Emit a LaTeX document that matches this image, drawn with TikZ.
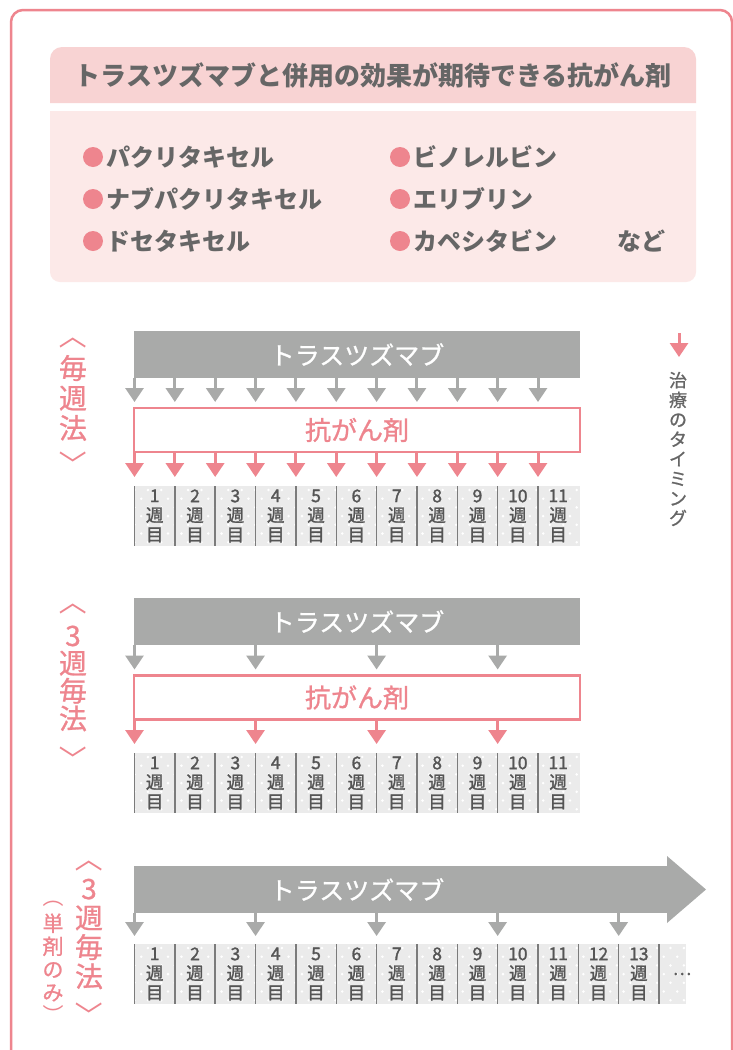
\documentclass[tikz,border=0pt]{standalone}
\usepackage{fontspec}
\setmainfont{Noto Sans CJK JP}
\newfontfamily\medfont[FakeBold=0.9]{Noto Sans CJK JP}
\newfontfamily\cellfont[FakeBold=1.6]{Noto Sans CJK JP}
\usetikzlibrary{arrows.meta}
\definecolor{pk}{HTML}{EE858E}
\definecolor{titlebg}{HTML}{F8D3D3}
\definecolor{listbg}{HTML}{FCE9E8}
\definecolor{txt}{HTML}{666666}
\definecolor{barg}{HTML}{A9AAA9}
\definecolor{gridbg}{HTML}{EBEBEB}
\definecolor{divc}{HTML}{7B7B7B}
\definecolor{gtxt}{HTML}{555555}
\tikzset{
 titletxt/.style={text=txt, font=\bfseries\fontsize{26}{30}\selectfont, inner sep=0},
 item/.style={text=txt, font=\bfseries\fontsize{24}{28}\selectfont, anchor=west, inner sep=0},
 bullet/.style={circle, fill=pk, minimum size=20, inner sep=0},
 graybar/.style={fill=barg, minimum width=446, minimum height=47, inner sep=0, outer sep=0},
 bartxt/.style={text=white, font=\medfont\fontsize{25}{30}\selectfont, inner sep=0},
 drugbox/.style={draw=pk, line width=2.5, fill=white, minimum width=446, minimum height=44, inner sep=0, outer sep=0, text=pk, font=\medfont\fontsize{26}{30}\selectfont},
 cell/.style={minimum width=40.35, minimum height=60, inner sep=0, outer sep=0, align=center, text=gtxt, font=\cellfont\fontsize{17.5}{19.5}\selectfont},
 divider/.style={draw=divc, line width=1.5},
 grayarr/.style={draw=barg, line width=3, -{Triangle[width=18pt,length=14pt]}},
 pinkarr/.style={draw=pk, line width=3, -{Triangle[width=18pt,length=14pt]}},
 vlabel/.style={text=pk, align=center, inner sep=0},
 bigl/.style={vlabel, font=\medfont\fontsize{28}{29}\selectfont},
 brk/.style={vlabel, rotate=-90, font=\fontsize{28}{29}\selectfont},
 smallbrk/.style={vlabel, rotate=-90, font=\fontsize{21}{23}\selectfont},
}
% #1 prefix, #2 top y, #3 number of cells, #4 right x of background
\newcommand{\mygrid}[4]{%
  \fill[gridbg] (134.5,#2) rectangle (#4,{#2+60});
  \begin{scope}
    \clip (134.5,#2) rectangle (#4,{#2+60});
    \foreach \r in {0,...,6} {
      \foreach \c in {0,...,41} {
        \fill[white] ({134.5+\c*13.4+mod(\r,2)*6.7},{#2+4+\r*8.7}) circle (1.4);
      }
    }
  \end{scope}
  \foreach \i in {1,...,#3} {
    \node[cell] (#1c\i) at ({134.5+(\i-0.5)*40.35},{#2+30}) {\i\\週\\目};
    \draw[divider] (#1c\i.north west) -- (#1c\i.south west);
  }
}
\begin{document}
\begin{tikzpicture}[x=1pt,y=-1pt]
\useasboundingbox (0,0) rectangle (733,1050);
\clip (0,0) rectangle (733,1050);
\fill[white] (0,0) rectangle (733,1050);
% outer frame
\draw[pk, line width=2.5, rounded corners=12pt] (11,10) rectangle (732,1090);

% title box
\fill[titlebg, rounded corners=12pt] (50,103) -- (50,47) -- (696,47) -- (696,103);
\node[titletxt] (title) at (373,75) {トラスツズマブと併用の効果が期待できる抗がん剤};
% list box
\fill[listbg, rounded corners=10pt] (50,111) -- (50,282) -- (696,282) -- (696,111);
\node[bullet] (b1) at (93,157) {};
\node[item] (i1) at (106,157) {パクリタキセル};
\node[bullet] (b2) at (93,199) {};
\node[item] (i2) at (106,199) {ナブパクリタキセル};
\node[bullet] (b3) at (93,241) {};
\node[item] (i3) at (106,241) {ドセタキセル};
\node[bullet] (b4) at (400,157) {};
\node[item] (i4) at (413,157) {ビノレルビン};
\node[bullet] (b5) at (400,199) {};
\node[item] (i5) at (413,199) {エリブリン};
\node[bullet] (b6) at (400,241) {};
\node[item] (i6) at (413,241) {カペシタビン};
\node[item, anchor=center] (i7) at (641,241) {など};

% legend
\coordinate (lgtop) at (679,333);
\coordinate (lgtip) at (679,357);
\draw[pinkarr] (lgtop) -- (lgtip);
\node[vlabel, text=txt, font=\medfont\fontsize{18}{19.7}\selectfont] (lg) at (678,449) {治\\療\\の\\タ\\イ\\ミ\\ン\\グ};

% ===== section 1 =====
\node[brk] (lab1o) at (73,335) {〈};
\node[bigl, font=\medfont\fontsize{28}{30}\selectfont] (lab1) at (73,398) {毎\\週\\法};
\node[brk] (lab1c) at (73,464) {〉};
\node[graybar] (tz1) at (357,354.5) {};
\node[bartxt] (tz1t) at (357,354.5) {トラスツズマブ};
\node[drugbox] (ab1) at (357,430) {抗がん剤};
\mygrid{wa}{486}{11}{580}
\foreach \i in {1,...,11} {
  \draw[grayarr] (tz1.south -| wac\i.north west) -- ([yshift=6pt]ab1.north -| wac\i.north west);
  \draw[pinkarr] (ab1.south -| wac\i.north west) -- ([yshift=9pt]wac\i.north west);
}

% ===== section 2 =====
\node[brk] (lab2o) at (73,601) {〈};
\node[bigl, font=\medfont\fontsize{28}{27.7}\selectfont] (lab2) at (73,678.5) {3\\週\\毎\\法};
\node[brk] (lab2c) at (73,759) {〉};
\node[graybar] (tz2) at (357,621.5) {};
\node[bartxt] (tz2t) at (357,621.5) {トラスツズマブ};
\node[drugbox] (ab2) at (357,697.5) {抗がん剤};
\mygrid{wb}{753}{11}{580}
\foreach \i in {1,4,7,10} {
  \draw[grayarr] (tz2.south -| wbc\i.north west) -- ([yshift=6pt]ab2.north -| wbc\i.north west);
  \draw[pinkarr] (ab2.south -| wbc\i.north west) -- ([yshift=9pt]wbc\i.north west);
}

% ===== section 3 =====
\node[brk] (lab3o) at (89,858) {〈};
\node[bigl, font=\medfont\fontsize{28}{29.3}\selectfont] (lab3) at (89,934) {3\\週\\毎\\法};
\node[brk] (lab3c) at (89,1015) {〉};
\node[smallbrk] (lab3so) at (53,897) {（};
\node[vlabel, font=\medfont\fontsize{21}{23}\selectfont] (lab3s) at (53,957.5) {単\\剤\\の\\み};
\node[smallbrk] (lab3sc) at (53,1015) {）};
\node[graybar, minimum width=534] (tz3) at (401,889.5) {};
\fill[barg] ([xshift=-1pt,yshift=10pt]tz3.north east) -- (706,889.5) -- ([xshift=-1pt,yshift=-10pt]tz3.south east) -- cycle;
\node[bartxt] (tz3t) at (357,889.5) {トラスツズマブ};
\mygrid{wc}{944}{13}{686}
\draw[divider] (wcc13.north east) -- (wcc13.south east);
\node[cell] (dots) at (682,974) {…};
\foreach \i in {1,4,7,10,13} {
  \draw[grayarr] (tz3.south -| wcc\i.north west) -- ([yshift=8pt]wcc\i.north west);
}
\end{tikzpicture}
\end{document}
